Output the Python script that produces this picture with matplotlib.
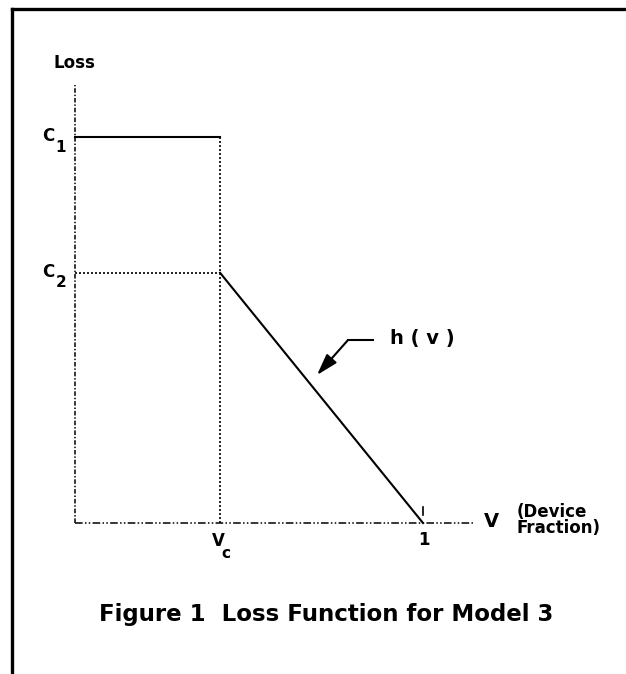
import numpy as np
import matplotlib
matplotlib.use('Agg')
import matplotlib.pyplot as plt
from matplotlib.lines import Line2D

# loss function values (data units: v on x, loss on y)
v_c = 0.417          # critical device fraction
v_end = 1.0
c1 = 1.0
c2 = 0.648

step_x = [0.0, v_c]
step_y = [c1, c1]
h_x = [v_c, v_end]
h_y = [c2, 0.0]

# figure
fig = plt.figure(figsize=(6.26, 6.74), dpi=100)
ax = fig.add_axes([0, 0, 1, 1])
ax.set_xlim(-0.2155, 1.5833)
ax.set_ylim(-0.3912, 1.3549)
ax.axis('off')

# page border (left and top only)
fig.add_artist(Line2D([0.0192, 0.0192], [0, 0.9866], color='k', lw=2.4, transform=fig.transFigure))
fig.add_artist(Line2D([0.0192, 1.0], [0.9866, 0.9866], color='k', lw=2.4, transform=fig.transFigure))

# axes
ax.plot([0, 0], [0, 1.135], color='k', lw=1.1, ls=(0, (3, 1.2, 1, 1.2)))
ax.plot([0, 1.1437], [0, 0], color='k', lw=1.1, ls=(0, (5, 1.5, 1, 1.5, 1, 1.5)))

# dotted guides
ax.plot([v_c, v_c], [0, c1], color='k', lw=1.2, ls=(0, (1.2, 1.2)))
ax.plot([0, v_c], [c2, c2], color='k', lw=1.2, ls=(0, (1.2, 1.2)))

# loss function
ax.plot(step_x, step_y, color='k', lw=1.5)
ax.plot(h_x, h_y, color='k', lw=1.5)

# tick at v = 1
ax.plot([v_end, v_end], [0.021, 0.041], color='k', lw=1.2)

# labels
fs = dict(color='k', fontweight='bold', family='DejaVu Sans')
ax.text(-0.003, 1.192, 'Loss', ha='center', va='center', fontsize=12, **fs)
ax.text(-0.0776, c1 + 0.002, 'C', ha='center', va='center', fontsize=12, **fs)
ax.text(-0.0402, c1 - 0.026, '1', ha='center', va='center', fontsize=11, **fs)
ax.text(-0.0776, c2 + 0.002, 'C', ha='center', va='center', fontsize=12, **fs)
ax.text(-0.0402, c2 - 0.026, '2', ha='center', va='center', fontsize=11, **fs)
ax.text(v_c - 0.006, -0.0466, 'V', ha='center', va='center', fontsize=12, **fs)
ax.text(v_c + 0.017, -0.0803, 'c', ha='center', va='center', fontsize=11, **fs)
ax.text(v_end + 0.003, -0.044, '1', ha='center', va='center', fontsize=12, **fs)
ax.text(1.198, 0.003, 'V', ha='center', va='center', fontsize=14, **fs)
ax.text(1.270, 0.008, '(Device\nFraction)', ha='left', va='center', fontsize=12,
        linespacing=0.85, **fs)
ax.text(0.905, 0.479, 'h ( v )', ha='left', va='center', fontsize=14, **fs)

# arrow pointing at h(v)
ax.plot([0.856, 0.7845], [0.474, 0.474], color='k', lw=1.5)
ax.annotate('', xy=(0.6954, 0.3834), xytext=(0.7845, 0.474),
            arrowprops=dict(arrowstyle='-|>,head_length=1.3,head_width=0.4',
                            color='k', lw=1.5, shrinkA=0, shrinkB=0))

# caption
ax.text(0.721, -0.238, 'Figure 1  Loss Function for Model 3', ha='center', va='center',
        fontsize=16.5, **fs)

fig.savefig('out.png', dpi=100)
